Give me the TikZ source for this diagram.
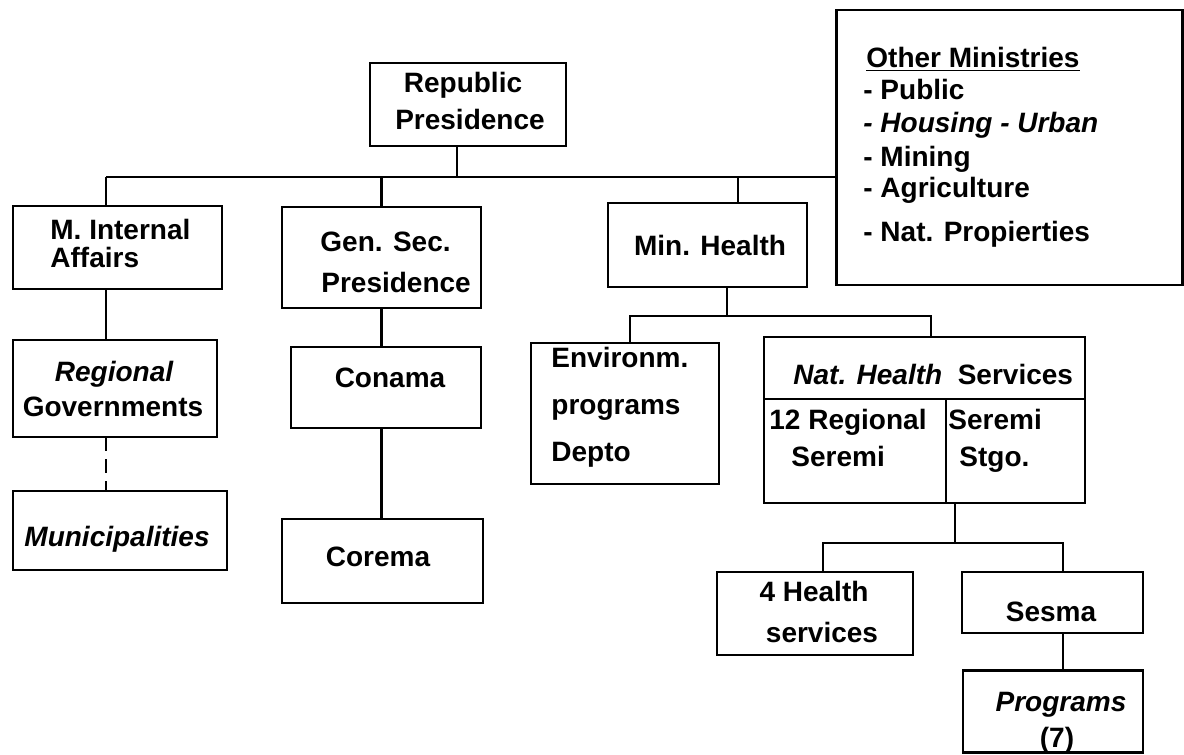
\documentclass[tikz,border=0pt]{standalone}
\usepackage{fontspec}
\setmainfont{Liberation Sans}
\begin{document}
\begin{tikzpicture}[x=0.5pt,y=-0.5pt,
  box/.style={draw, line width=1.2pt, inner sep=0pt, outer sep=0pt},
  link/.style={line width=1.4pt},
  txt/.style={inner sep=0pt, font=\fontsize{14}{16}\selectfont\bfseries},
  txtl/.style={txt, anchor=base west},
  txtc/.style={txt, anchor=base}]
\useasboundingbox[fill=white] (0,0) rectangle (1184,755);

% boxes
\node[box, minimum width=98pt,    minimum height=41.5pt] (rep)    at (468,104.5) {};
\node[box, minimum width=104.5pt, minimum height=41.5pt] (mint)   at (117.5,247.5) {};
\node[box, minimum width=99.5pt,  minimum height=50.5pt] (gensec) at (381.5,257.5) {};
\node[box, minimum width=99.5pt,  minimum height=42pt]   (minh)   at (707.5,245) {};
\node[box, minimum width=173pt,   minimum height=137.5pt](other)  at (1009.5,147.5) {};
\node[box, minimum width=102pt,   minimum height=48.5pt] (reg)    at (115,388.5) {};
\node[box, minimum width=107pt,   minimum height=39.5pt] (muni)   at (120,530.5) {};
\node[box, minimum width=95pt,    minimum height=40.5pt] (conama) at (386,387.5) {};
\node[box, minimum width=100.5pt, minimum height=42pt]   (corema) at (382.5,561) {};
\node[box, minimum width=94pt,    minimum height=70.5pt] (env)    at (625,413.5) {};
\node[box, minimum width=160.5pt, minimum height=83pt]   (nhs)    at (924.5,420) {};
\node[box, minimum width=98pt,    minimum height=41.5pt] (hfour)  at (815,613.5) {};
\node[box, minimum width=90.5pt,  minimum height=30.5pt] (sesma)  at (1052.5,602.5) {};
\node[box, minimum width=90pt,    minimum height=41pt]   (progs)  at (1053,711.5) {};

% inner divisions of Nat. Health Services
\coordinate (hdr) at (0,399);
\coordinate (dv) at (946,0);
\draw[line width=1.2pt] (nhs.west |- hdr) -- (nhs.east |- hdr);
\draw[line width=1.2pt] (dv |- hdr) -- (dv |- nhs.south);

% texts
\node[txtc] (t-rep1) at (463,92) {Republic};
\node[txtc] (t-rep2) at (470,129) {Presidence};
\node[txtl] (t-mint1) at (50,239) {M. Internal};
\node[txtl] (t-mint2) at (50,267) {Affairs};
\node[txtl] (t-gs1) at (320,251) {Gen. Sec.};
\node[txtl] (t-gs2) at (321,292) {Presidence};
\node[txtc] (t-minh) at (710,255) {Min. Health};
\node[txtl] (t-oth0) at (866,67) {\underline{Other Ministries}};
\node[txtl] (t-oth1) at (863,99) {- Public};
\node[txtl] (t-oth2) at (863,132) {\itshape - Housing - Urban};
\node[txtl] (t-oth3) at (863,166) {- Mining};
\node[txtl] (t-oth4) at (863,197) {- Agriculture};
\node[txtl] (t-oth5) at (863,241) {- Nat. Propierties};
\node[txtc] (t-reg1) at (114,381) {\itshape Regional};
\node[txtc] (t-reg2) at (113,416) {Governments};
\node[txtc] (t-muni) at (117,546) {\itshape Municipalities};
\node[txtc] (t-con) at (390,387) {Conama};
\node[txtc] (t-cor) at (378,566) {Corema};
\node[txtl] (t-env1) at (551,367) {Environm.};
\node[txtl] (t-env2) at (551,414) {programs};
\node[txtl] (t-env3) at (551,461) {Depto};
\node[txtl] (t-nhs) at (793,384) {\itshape Nat. Health\upshape\ \ Services};
\node[txtl] (t-reg12a) at (769,429) {12 Regional};
\node[txtl] (t-reg12b) at (791,466) {Seremi};
\node[txtl] (t-stg1) at (948,429) {Seremi};
\node[txtl] (t-stg2) at (959,466) {Stgo.};
\node[txtc] (t-h4a) at (814,601) {4 Health};
\node[txtc] (t-h4b) at (822,642) {services};
\node[txtc] (t-ses) at (1051,621) {Sesma};
\node[txtc] (t-pr1) at (1061,711) {\itshape Programs};
\node[txtc] (t-pr2) at (1057,747) {(7)};

% connectors
\coordinate (j1) at (457,177);
\coordinate (b1l) at (106,177);
\coordinate (dminh) at (738,177);
\draw[link] (rep.south -| j1) -- (j1);
\draw[link] (b1l) -- (b1l -| other.west);
\draw[link] (b1l) -- (b1l |- mint.north);
\draw[link] (gensec.north |- j1) -- (gensec.north);
\draw[link] (dminh) -- (dminh |- minh.north);

\draw[link] (b1l |- mint.south) -- (b1l |- reg.north);
\draw[link, dash pattern=on 7pt off 4pt] (b1l |- reg.south) -- (b1l |- muni.north);

\draw[link] (gensec.south) -- (gensec.south |- conama.north);
\draw[link] (gensec.south |- conama.south) -- (gensec.south |- corema.north);

\coordinate (j2) at (727,316);
\coordinate (b2l) at (630,316);
\coordinate (b2r) at (931,316);
\draw[link] (minh.south -| j2) -- (j2);
\draw[link] (b2l |- env.north) -- (b2l) -- (b2r) -- (b2r |- nhs.north);

\coordinate (j3) at (955,543);
\coordinate (b3l) at (823,543);
\coordinate (b3r) at (1063,543);
\draw[link] (nhs.south -| j3) -- (j3);
\draw[link] (b3l |- hfour.north) -- (b3l) -- (b3r) -- (b3r |- sesma.north);
\draw[link] (sesma.south -| b3r) -- (progs.north -| b3r);
\end{tikzpicture}
\end{document}
